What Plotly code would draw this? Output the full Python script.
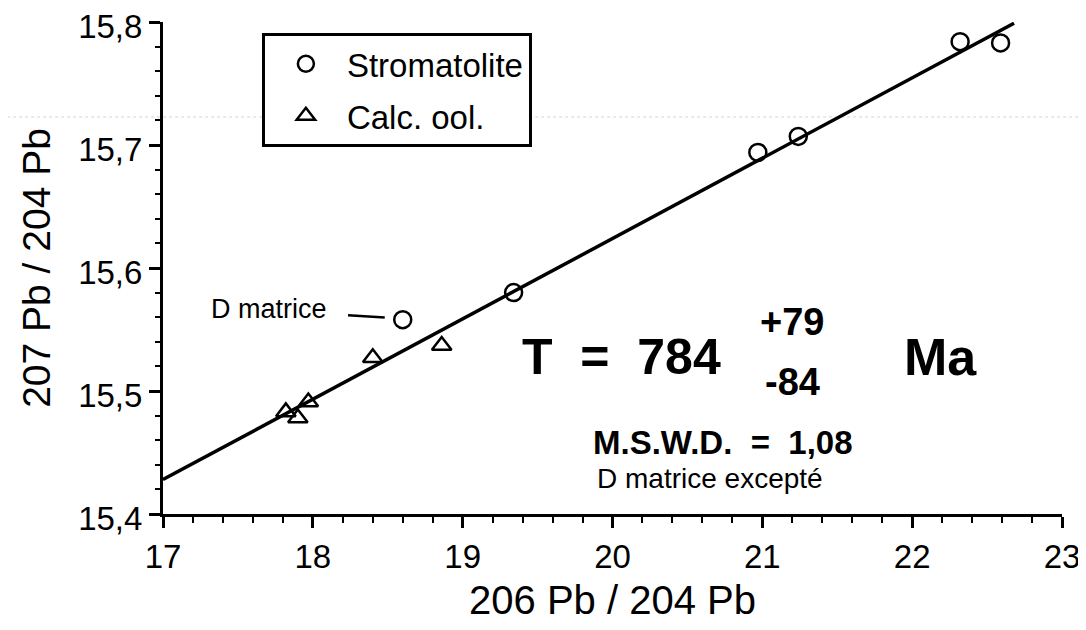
import plotly.graph_objects as go

# ---- data ----
strom_x = [18.60, 19.34, 20.97, 21.24, 22.32, 22.59]
strom_y = [15.558, 15.580, 15.694, 15.707, 15.784, 15.783]
calc_x = [17.82, 17.90, 17.97, 18.40, 18.86]
calc_y = [15.483, 15.478, 15.491, 15.527, 15.537]
iso_x = [17.0, 22.68]
iso_y = [15.428, 15.799]
x_ticks = [17, 18, 19, 20, 21, 22, 23]
y_ticks = [15.4, 15.5, 15.6, 15.7, 15.8]

FONT = "Liberation Sans, Arial, Helvetica, sans-serif"

fig = go.Figure()
fig.add_trace(go.Scatter(x=iso_x, y=iso_y, mode="lines",
                         line=dict(color="black", width=3.5),
                         showlegend=False, hoverinfo="skip"))
fig.add_trace(go.Scatter(x=strom_x, y=strom_y, mode="markers", name="Stromatolite",
                         legendgroup="a",
                         marker=dict(symbol="circle-open", size=17, color="black",
                                     line=dict(width=2.5, color="black")),
                         cliponaxis=False))
fig.add_trace(go.Scatter(x=calc_x, y=calc_y, mode="markers", name="Calc. ool.",
                         legendgroup="b",
                         marker=dict(symbol="triangle-up-open", size=17, color="black",
                                     line=dict(width=2.5, color="black")),
                         cliponaxis=False))

axis_common = dict(showline=True, linecolor="black", linewidth=3, mirror=False,
                   showgrid=False, zeroline=False, ticks="outside", tickwidth=2.5,
                   tickcolor="black", ticklen=11, ticklabeloverflow="allow",
                   tickfont=dict(family=FONT, size=33, color="black"))

fig.update_xaxes(range=[17, 23], tickvals=x_ticks, **axis_common,
                 minor=dict(dtick=0.2, ticks="outside", ticklen=6, tickwidth=2,
                            tickcolor="black", showgrid=False),
                 title=dict(text="206 Pb / 204 Pb", standoff=15,
                            font=dict(family=FONT, size=40, color="black")))
fig.update_yaxes(range=[15.4, 15.8], tickvals=y_ticks, tickformat=".1f", **axis_common,
                 ticklabelshift=4,
                 minor=dict(dtick=0.02, ticks="outside", ticklen=5, tickwidth=2,
                            tickcolor="black", showgrid=False),
                 title=dict(text="207 Pb / 204 Pb", standoff=16,
                            font=dict(family=FONT, size=39, color="black")))

ann = []
def add(text, x, y, size, bold=False, xanchor="center"):
    ann.append(dict(x=x, y=y, xref="x", yref="y", text=("<b>%s</b>" % text) if bold else text,
                    showarrow=False, xanchor=xanchor, yanchor="middle",
                    font=dict(family=FONT, size=size, color="black")))

add("T  =  784", 20.06, 15.5275, 50, bold=True)
add("+79", 21.20, 15.5565, 38, bold=True)
add("-84", 21.20, 15.507, 38, bold=True)
add("Ma", 22.19, 15.5275, 52, bold=True)
add("M.S.W.D.  =  1,08", 20.74, 15.458, 33, bold=True)
add("D matrice excepté", 20.65, 15.429, 28)
add("D matrice", 17.71, 15.567, 27)

fig.update_layout(
    annotations=ann,
    shapes=[dict(type="line", xref="x", yref="y", x0=18.235, y0=15.5615, x1=18.48, y1=15.5598,
                 line=dict(color="black", width=2.5)),
            dict(type="line", xref="paper", yref="paper", x0=-0.2, x1=1.03, y0=0.807, y1=0.807,
                 line=dict(color="#d4d4d4", width=1, dash="dot"), layer="below")],
    width=1078, height=614,
    margin=dict(l=155, r=24, t=14, b=108, autoexpand=False),
    plot_bgcolor="white", paper_bgcolor="white",
    separators=", ",
    legend=dict(x=0.110, y=0.978, xanchor="left", yanchor="top",
                bordercolor="black", borderwidth=3, bgcolor="white",
                font=dict(family=FONT, size=33, color="black"),
                tracegroupgap=6, itemwidth=72),
    font=dict(family=FONT, color="black"),
)

fig.write_html("out.html")
